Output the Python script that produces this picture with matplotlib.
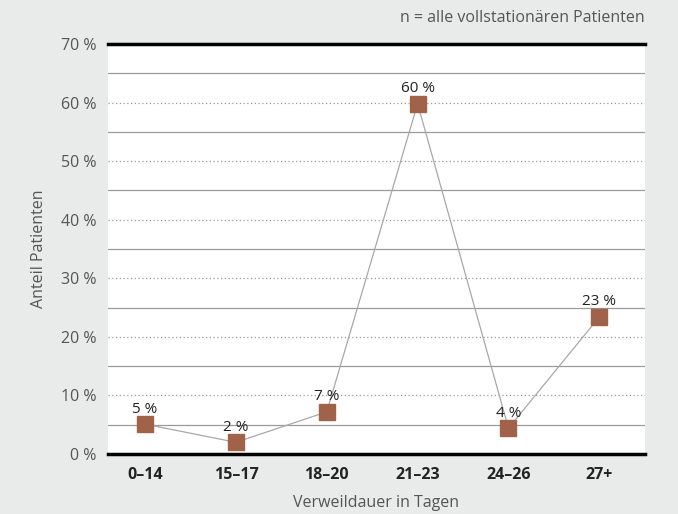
import numpy as np
import matplotlib.pyplot as plt

plt.rcParams['font.family'] = ['Open Sans', 'DejaVu Sans']

# data
categories = ['0–14', '15–17', '18–20', '21–23', '24–26', '27+']
values = [5.1, 2.0, 7.2, 59.8, 4.4, 23.4]
labels = ['5 %', '2 %', '7 %', '60 %', '4 %', '23 %']
yticks = [0, 10, 20, 30, 40, 50, 60, 70]

bg = '#e8ebe9'
fig = plt.figure(figsize=(6.78, 5.14), dpi=100, facecolor=bg)
ax = fig.add_axes([0.159, 0.1167, 0.792, 0.7977])
ax.set_facecolor('white')

x = np.arange(len(categories))
ax.set_xlim(-0.41, 5.5)
ax.set_ylim(0, 70)

# gridlines: solid at odd fives, dotted at tens
for v in range(5, 70, 10):
    ax.axhline(v, color='#9a9a9a', lw=0.9, zorder=1)
for v in range(10, 70, 10):
    ax.axhline(v, color='#9a9a9a', lw=0.9, ls=(0, (1, 2)), zorder=1)
ax.axhline(0, color='black', lw=2.5, zorder=2, clip_on=False)
ax.axhline(70, color='black', lw=2.5, zorder=2, clip_on=False)

ax.plot(x, values, color='#a8a8a8', lw=0.9, zorder=3)
ax.plot(x, values, ls='none', marker='s', ms=11.5, color='#a0634a', zorder=4)

for xi, v, t in zip(x, values, labels):
    ax.annotate(t, (xi, v), xytext=(0, 5.5), textcoords='offset points',
                ha='center', va='bottom', fontsize=11, color='#222222')

for s in ax.spines.values():
    s.set_visible(False)

ax.set_yticks(yticks)
ax.set_yticklabels([f'{v} %' for v in yticks], fontsize=11.5, color='#555555')
ax.set_xticks(x)
ax.set_xticklabels(categories, fontsize=11.5, fontweight='bold', color='#222222')
ax.tick_params(axis='both', length=0)
ax.tick_params(axis='y', pad=8)
ax.tick_params(axis='x', pad=9)

ax.set_xlabel('Verweildauer in Tagen', fontsize=11.5, color='#555555', labelpad=9)
ax.set_ylabel('Anteil Patienten', fontsize=11.5, color='#555555', labelpad=10)

fig.text(0.951, 0.965, 'n = alle vollstationären Patienten', ha='right', va='center',
         fontsize=11.5, color='#555555')

fig.savefig('out.png', dpi=100, facecolor=bg)
